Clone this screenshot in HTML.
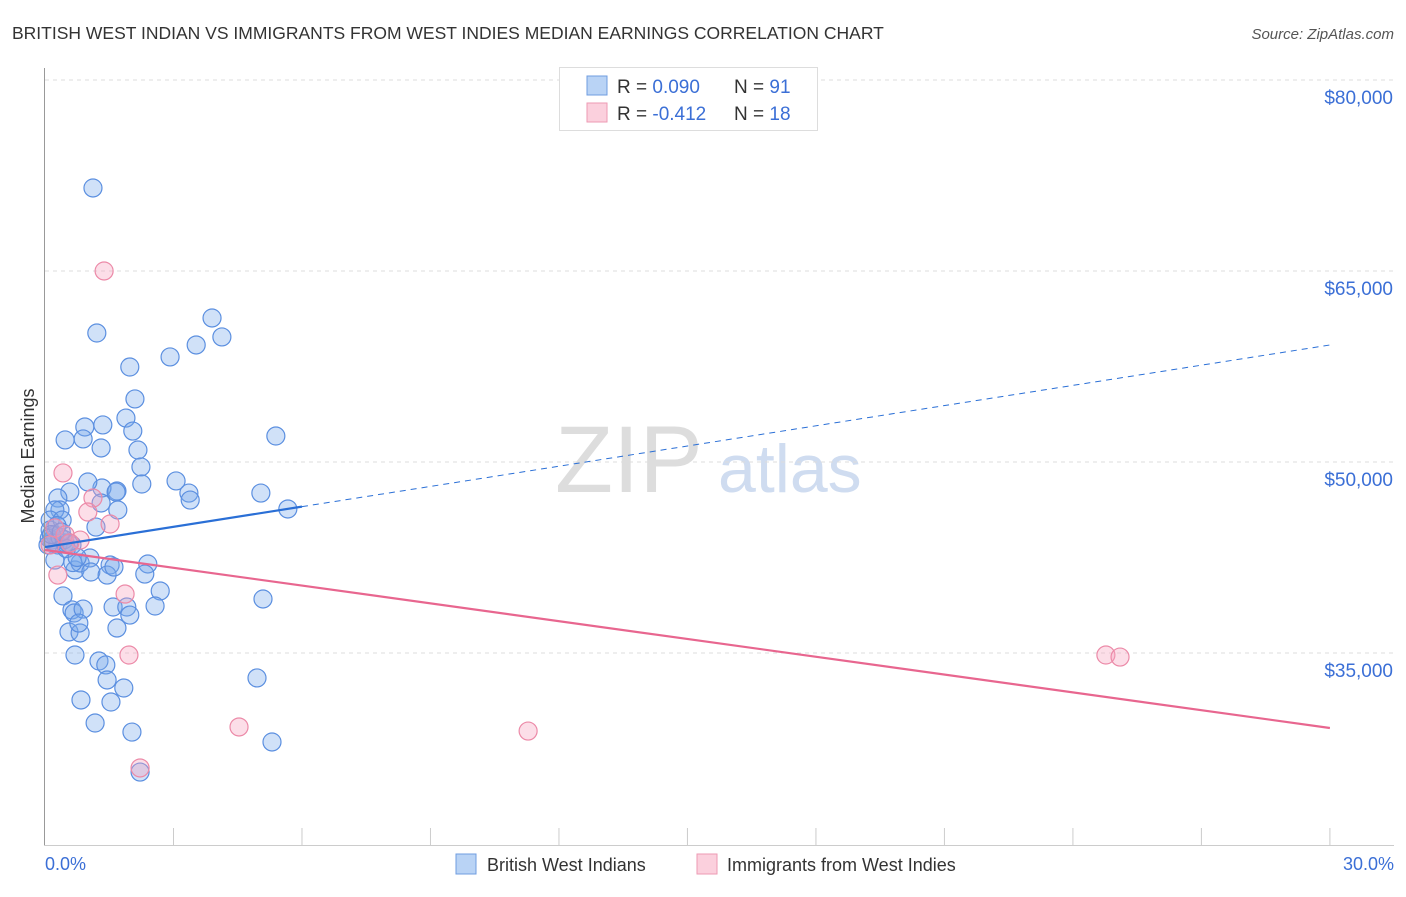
<!DOCTYPE html>
<html><head><meta charset="utf-8"><style>
body{margin:0;background:#fff;font-family:"Liberation Sans",sans-serif;}
svg text{font-family:"Liberation Sans",sans-serif;}
</style></head><body>
<svg id="c" width="1406" height="892">
<text x="12" y="39" font-size="17.5" fill="#333">BRITISH WEST INDIAN VS IMMIGRANTS FROM WEST INDIES MEDIAN EARNINGS CORRELATION CHART</text>
<text x="1394" y="39" font-size="15" fill="#555" font-style="italic" text-anchor="end">Source: ZipAtlas.com</text>
<text x="34" y="456" font-size="18" fill="#333" text-anchor="middle" transform="rotate(-90 34 456)">Median Earnings</text>
<text x="555" y="492" font-size="95" fill="#ddd" font-family="Liberation Serif">ZIP</text>
<text x="718" y="492" font-size="68" fill="#cfdcf0">atlas</text>
<g id="grid"></g><g id="pts"></g><g id="lines"></g>
<line x1="44.5" y1="68" x2="44.5" y2="846" stroke="#999"/>
<line x1="44" y1="845.5" x2="1394" y2="845.5" stroke="#ccc"/>
<text x="45" y="870" font-size="18" fill="#3b6fd6">0.0%</text>
<text x="1394" y="870" font-size="18" fill="#3b6fd6" text-anchor="end">30.0%</text>
<g>
<rect x="559.5" y="67.5" width="258" height="63" fill="#fff" stroke="#ddd"/>
<rect x="587" y="76" width="20" height="19" fill="#b9d3f5" stroke="#6f9de0"/>
<rect x="587" y="103" width="20" height="19" fill="#fbd0dd" stroke="#ee9ab3"/>
<text x="617" y="93" font-size="19" fill="#333">R = <tspan fill="#3b6fd6">0.090</tspan></text>
<text x="734" y="93" font-size="19" fill="#333">N = <tspan fill="#3b6fd6">91</tspan></text>
<text x="617" y="120" font-size="19" fill="#333">R = <tspan fill="#3b6fd6">-0.412</tspan></text>
<text x="734" y="120" font-size="19" fill="#333">N = <tspan fill="#3b6fd6">18</tspan></text>
</g>
<g>
<rect x="456" y="854" width="20" height="20" fill="#b9d3f5" stroke="#6f9de0"/>
<text x="487" y="871" font-size="18" fill="#333">British West Indians</text></g>
<g>
<rect x="697" y="854" width="20" height="20" fill="#fbd0dd" stroke="#ee9ab3"/>
<text x="727" y="871" font-size="18" fill="#333">Immigrants from West Indies</text></g>
</svg>
<script>
const yTicks=[80000,65000,50000,35000];
const yTickLabels=["$80,000","$65,000","$50,000","$35,000"];
const xTicks=[3,6,9,12,15,18,21,24,27,30];
const bluePct=[1.12,1.21,1.98,2.10,1.89,2.05,1.35,0.93,0.47,0.89,1.31,2.17,2.24,2.26,2.92,3.53,3.90,4.13,5.39,5.04,5.67,3.06,3.36,3.39,1.68,1.33,1.00,0.58,0.30,0.35,0.23,0.12,1.19,1.31,1.66,0.16,0.30,0.47,0.63,0.23,0.70,0.82,1.05,1.07,1.52,1.45,1.61,2.40,2.33,2.69,0.42,0.63,0.68,0.89,1.59,1.91,1.98,2.57,0.56,0.82,1.68,5.09,0.70,1.26,1.42,1.45,1.84,1.54,0.84,1.17,2.03,4.95,5.30,2.22,0.79,0.12,0.07,0.40,1.70,0.23,0.10,0.20,0.35,0.45,0.55,0.28,0.15,0.65,0.50,0.38,0.75];
const blueVal=[71.52,60.13,57.46,54.95,53.45,52.43,52.91,52.75,51.73,51.81,51.10,50.94,49.61,48.27,58.25,59.19,61.31,59.82,52.04,47.56,46.31,48.51,47.56,47.01,47.72,47.96,48.43,47.64,47.17,46.23,46.23,45.44,44.89,46.78,47.64,43.87,43.48,43.64,43.48,42.30,41.52,42.07,42.46,41.36,41.91,41.12,41.75,41.99,41.20,39.87,39.48,38.38,38.14,38.45,38.61,38.61,37.98,38.69,36.65,36.57,36.96,39.24,34.84,34.37,34.06,32.88,32.25,31.15,31.31,29.50,28.79,33.04,28.01,25.65,37.35,44.66,43.48,45.44,46.23,44.27,44.0,43.7,44.1,43.9,43.6,45.0,44.3,42.1,43.2,44.5,42.5];
const pinkPct=[1.38,0.42,1.12,1.52,1.00,0.23,0.47,0.82,0.58,0.30,1.87,1.96,4.53,11.28,2.22,24.77,25.10,0.12];
const pinkVal=[65.0,49.14,47.17,45.13,46.07,44.82,44.27,43.87,43.64,41.12,39.63,34.84,29.19,28.87,25.97,34.84,34.68,43.48];
const blueTrend=[43.32,59.19]; // $k at 0% and 30%
const blueSolidEnd=6;
const pinkTrend=[43.09,29.11];
const X=p=>45+p*42.83, Y=v=>80+(80000-v)*0.012733, Yk=k=>Y(k*1000);
const NS="http://www.w3.org/2000/svg";
function mk(t,a,par){const e=document.createElementNS(NS,t);for(const k in a)e.setAttribute(k,a[k]);document.getElementById(par).appendChild(e);return e;}
yTicks.forEach((v,i)=>{
 const l=mk('line',{x1:45,x2:1394,y1:Y(v),y2:Y(v),stroke:'#ddd','stroke-dasharray':'4 4'},'grid');
 
 
 const t=mk('text',{x:1393,y:Y(v)+24,'font-size':19,fill:'#3b6fd6','text-anchor':'end'},'grid');
 t.textContent=yTickLabels[i];
 
 
});
xTicks.forEach(p=>{
 const l=mk('line',{x1:X(p),x2:X(p),y1:828,y2:845,stroke:'#ccc'},'grid');
 
 
});
bluePct.forEach((p,i)=>{
 const c=mk('circle',{cx:X(p),cy:Yk(blueVal[i]),r:9,fill:'rgba(120,170,235,0.35)',stroke:'#5b8fe0','stroke-width':1.2},'pts');
 
 
});
pinkPct.forEach((p,i)=>{
 const c=mk('circle',{cx:X(p),cy:Yk(pinkVal[i]),r:9,fill:'rgba(245,160,190,0.35)',stroke:'#ec8aa8','stroke-width':1.2},'pts');
 
 
});
const bAt=p=>blueTrend[0]+(blueTrend[1]-blueTrend[0])*p/30;
let l1=mk('line',{x1:X(0),y1:Yk(bAt(0)),x2:X(blueSolidEnd),y2:Yk(bAt(blueSolidEnd)),stroke:'#2a6fd6','stroke-width':2.2},'lines');


let l2=mk('line',{x1:X(blueSolidEnd),y1:Yk(bAt(blueSolidEnd)),x2:X(30),y2:Yk(bAt(30)),stroke:'#2a6fd6','stroke-width':1,'stroke-dasharray':'6 5'},'lines');


let l3=mk('line',{x1:X(0),y1:Yk(pinkTrend[0]),x2:X(30),y2:Yk(pinkTrend[1]),stroke:'#e8668f','stroke-width':2.2},'lines');


</script>
</body></html>
